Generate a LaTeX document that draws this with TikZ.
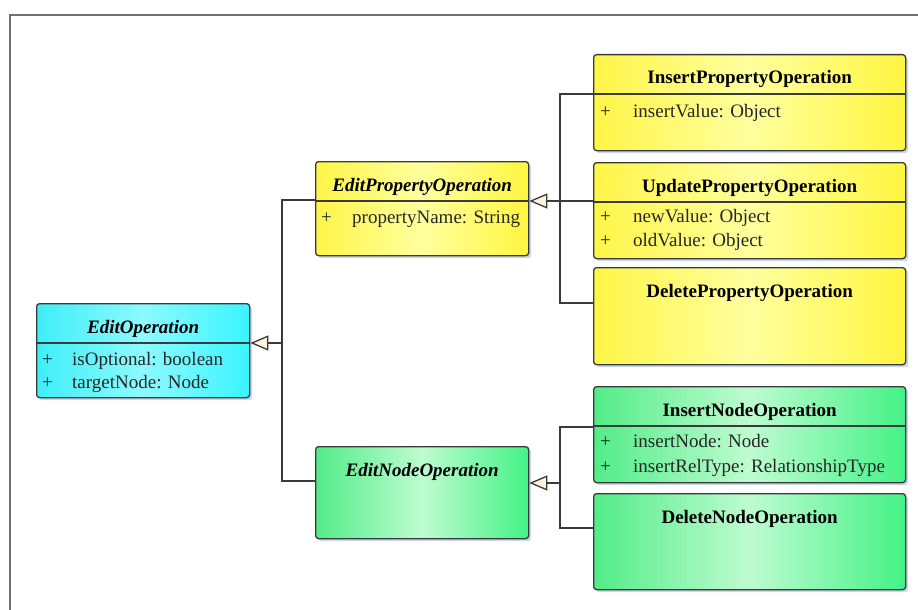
\documentclass[tikz,border=0pt]{standalone}
\usepackage{fontspec}
\setmainfont{Liberation Serif}
\usetikzlibrary{arrows.meta,shadows}

\definecolor{edge}{HTML}{3A3A3A}
\definecolor{framec}{HTML}{707070}
\definecolor{shadowc}{HTML}{C9D8EA}
\definecolor{arrowfill}{HTML}{FFF3DC}
\definecolor{cyanL}{HTML}{3FEEF6}
\definecolor{cyanM}{HTML}{8CFAFF}
\definecolor{cyanR}{HTML}{3AF4FF}
\definecolor{yelL}{HTML}{FFF548}
\definecolor{yelM}{HTML}{FFFF9E}
\definecolor{yelR}{HTML}{FFF640}
\definecolor{grnL}{HTML}{52EC88}
\definecolor{grnM}{HTML}{BEFCD0}
\definecolor{grnR}{HTML}{44F286}

\tikzset{
  box/.style={draw=edge, line width=1.3pt, rounded corners=3pt, inner sep=0pt,
    anchor=north west,
    drop shadow={shadow xshift=2.5pt, shadow yshift=-2.5pt, fill=shadowc, opacity=1}},
  cyanbox/.style={box, left color=cyanL, right color=cyanR, middle color=cyanM},
  yelbox/.style={box, left color=yelL, right color=yelR, middle color=yelM},
  grnbox/.style={box, left color=grnL, right color=grnR, middle color=grnM},
  ttl/.style={font=\fontsize{19}{22}\selectfont\bfseries, anchor=base, inner sep=0pt},
  attr/.style={font=\fontsize{19}{22}\selectfont, text=black!85, anchor=base west, inner sep=0pt},
  divider/.style={draw=edge, line width=1.3pt},
  conn/.style={draw=edge, line width=1.3pt},
  inh/.style={conn, -{Triangle[length=18pt, width=15pt, fill=arrowfill]}},
  framel/.style={draw=framec, line width=2pt}
}

% class box: name, x, y, width, height, style
\newcommand\umlclass[6]{%
  \node[#6, minimum width=#4pt, minimum height=#5pt] (#1) at (#2,#3) {};}
% class title: name, text
\newcommand\umltitle[2]{%
  \node[ttl] (#1-t) at ([yshift=-30pt]#1.north) {#2};}
% divider under the title: name
\newcommand\umldiv[1]{%
  \draw[divider] ([yshift=-40pt]#1.north west) -- ([yshift=-40pt]#1.north east);}
% attribute line: name, index, plus offset, text offset, baseline offset, text
\newcommand\umlattr[6]{%
  \node[attr] (#1-p#2) at ([xshift=#3pt,yshift=-#5pt]#1.north west) {+};
  \node[attr] (#1-a#2) at ([xshift=#4pt,yshift=-#5pt]#1.north west) {#6};}

\begin{document}
\begin{tikzpicture}[x=1pt, y=-1pt]
\useasboundingbox (0,0) rectangle (918,610);

% outer frame
\draw[framel] (10,610) -- (10,15) -- (918,15);

% classes
\umlclass{eo}{36}{303}{213}{94}{cyanbox}
\umlclass{ep}{315}{161}{213}{94}{yelbox}
\umlclass{en}{315}{446}{213}{92}{grnbox}
\umlclass{ip}{593}{54}{312}{96}{yelbox}
\umlclass{up}{593}{162}{312}{96}{yelbox}
\umlclass{dp}{593}{267}{312}{97}{yelbox}
\umlclass{in}{593}{386}{312}{96}{grnbox}
\umlclass{dn}{593}{493}{312}{96}{grnbox}

\umltitle{eo}{\textit{EditOperation}}
\umltitle{ep}{\textit{EditPropertyOperation}}
\umltitle{en}{\textit{EditNodeOperation}}
\umltitle{ip}{InsertPropertyOperation}
\umltitle{up}{UpdatePropertyOperation}
\umltitle{dp}{DeletePropertyOperation}
\umltitle{in}{InsertNodeOperation}
\umltitle{dn}{DeleteNodeOperation}

\umldiv{eo}
\umldiv{ep}
\umldiv{ip}
\umldiv{up}
\umldiv{in}

\umlattr{eo}{1}{6}{36}{62}{isOptional: boolean}
\umlattr{eo}{2}{6}{36}{85}{targetNode: Node}
\umlattr{ep}{1}{6}{37}{62}{propertyName: String}
\umlattr{ip}{1}{7}{40}{63}{insertValue: Object}
\umlattr{up}{1}{7}{40}{60}{newValue: Object}
\umlattr{up}{2}{7}{40}{84}{oldValue: Object}
\umlattr{in}{1}{7}{40}{61}{insertNode: Node}
\umlattr{in}{2}{7}{40}{86}{insertRelType: RelationshipType}

% generalisation: property operations
\coordinate (jp) at (560,201);
\draw[conn] ([yshift=-40pt]ip.north west) -| (jp);
\draw[conn] ([yshift=-39pt]up.north west) -| (jp);
\draw[conn] ([yshift=-36pt]dp.north west) -| (jp);
\draw[inh] (jp) -- (ep.east |- jp);

% generalisation: node operations
\coordinate (jn) at (560,483);
\draw[conn] ([yshift=-41pt]in.north west) -| (jn);
\draw[conn] ([yshift=-35pt]dn.north west) -| (jn);
\draw[inh] (jn) -- (en.east |- jn);

% generalisation: edit operations
\coordinate (jo) at (282,343);
\draw[conn] ([yshift=-39pt]ep.north west) -| (jo);
\draw[conn] ([yshift=-35pt]en.north west) -| (jo);
\draw[inh] (jo) -- (eo.east |- jo);
\end{tikzpicture}
\end{document}
